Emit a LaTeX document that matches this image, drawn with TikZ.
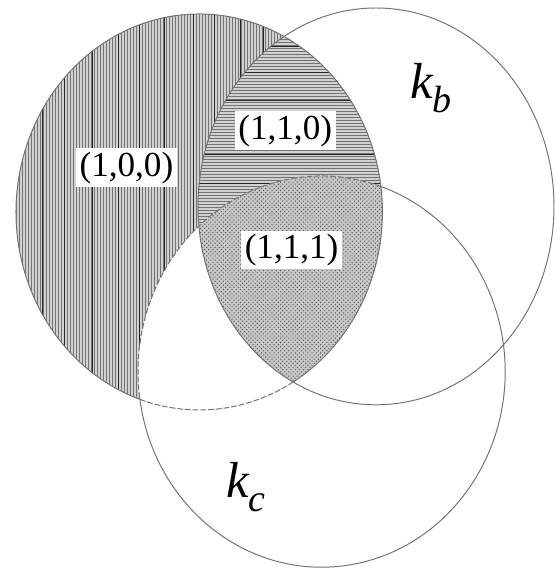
\documentclass[tikz,border=0pt]{standalone}
\usepackage{fontspec}
\setmainfont{Liberation Serif}
\usepackage{tikz}
\usetikzlibrary{patterns}
\newcommand{\circA}{(4.98,8.90) ellipse [x radius=4.58,y radius=4.95]}
\newcommand{\circB}{(9.40,9.04) ellipse [x radius=4.45,y radius=4.96]}
\newcommand{\circC}{(8.04,4.91) ellipse [x radius=4.59,y radius=4.89]}
\newcommand{\lowsub}[1]{\raisebox{-.28em}{\fontsize{27}{30}\selectfont #1}}

\begin{document}
\begin{tikzpicture}[x=1cm,y=1cm,
  ring/.style={draw=black!55,line width=.7pt},
  hidden/.style={ring,dash pattern=on 4pt off 1.5pt},
  vhatch/.style={draw=black!55,line width=.7pt},
  hhatch/.style={draw=black!55,line width=.7pt},
  darkline/.style={draw=black!85,line width=.55pt},
  tuple/.style={fill=white,inner sep=2.5pt,font=\fontsize{25}{30}\selectfont},
  setname/.style={font=\fontsize{36}{40}\selectfont\itshape}
]
 \path[use as bounding box] (0,0) rectangle (13.875,14.2);

 % (1,0,0): vertical hatch over all of the left set, the rest is painted over
 \begin{scope}
  \clip \circA;
  \fill[black!18] \circA;
  \foreach \xx in {0.40,0.475,...,9.60}
    \draw[vhatch] (\xx,3.9) -- (\xx,13.9);
  \foreach \xx in {1.05,1.62,2.31,2.95,3.48,4.12,4.83,5.36,6.02,6.58}
    \draw[darkline] (\xx,3.9) -- (\xx,13.9);
 \end{scope}

 % (1,1,0): horizontal hatch where k_b meets the left set
 \begin{scope}
  \clip \circA;
  \clip \circB;
  \fill[white] \circB;
  \fill[black!18] \circB;
  \foreach \yy in {4.60,4.675,...,13.40}
    \draw[hhatch] (4.9,\yy) -- (9.7,\yy);
  \foreach \yy in {9.62,10.35,11.70,12.40,13.05}
    \draw[darkline] (4.9,\yy) -- (9.7,\yy);
 \end{scope}

 % k_c blanks its part of the left set; (1,1,1) gets the dotted grey
 \begin{scope}
  \clip \circA;
  \clip \circC;
  \fill[white] \circC;
  \clip \circB;
  \fill[black!22] \circB;
  \fill[pattern=crosshatch dots,pattern color=black!65] \circB;
 \end{scope}

 % outlines, hidden arcs dashed
 \draw[ring] \circB;
 \draw[ring] ([shift={(4.98,8.90)}]300.9:4.58 and 4.95)
   arc[start angle=300.9,end angle=611.1,x radius=4.58,y radius=4.95];
 \draw[hidden] ([shift={(4.98,8.90)}]251.1:4.58 and 4.95)
   arc[start angle=251.1,end angle=300.9,x radius=4.58,y radius=4.95];
 \draw[ring] ([shift={(8.04,4.91)}]188.15:4.59 and 4.89)
   arc[start angle=188.15,end angle=431.2,x radius=4.59,y radius=4.89];
 \draw[hidden] ([shift={(8.04,4.91)}]71.2:4.59 and 4.89)
   arc[start angle=71.2,end angle=188.15,x radius=4.59,y radius=4.89];

 \node[tuple] (t100) at (3.16,10.01) {(1,0,0)};
 \node[tuple] (t110) at (7.13,10.93) {(1,1,0)};
 \node[tuple] (t111) at (7.29,7.95) {(1,1,1)};
 \node[setname] (kb) at (10.78,12.00) {k\lowsub{b}};
 \node[setname] (kc) at (6.15,2.03) {k\lowsub{c}};
\end{tikzpicture}
\end{document}
